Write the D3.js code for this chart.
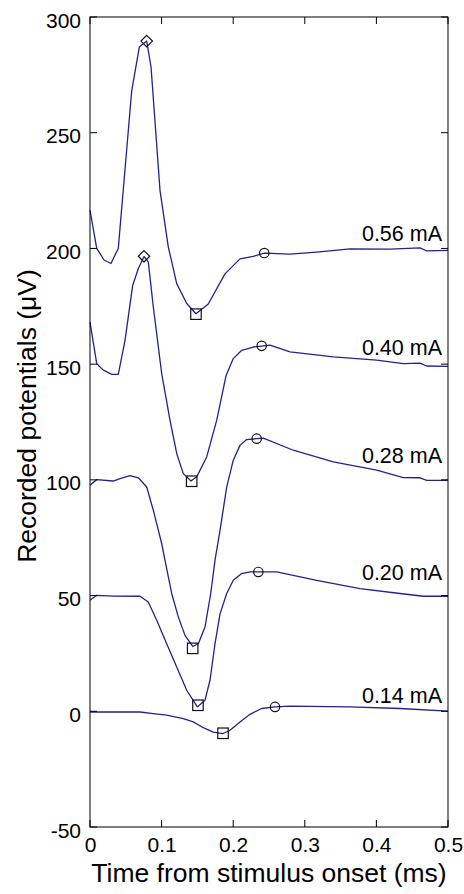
<!DOCTYPE html>
<html>
<head>
<meta charset="utf-8">
<script src="https://cdn.jsdelivr.net/npm/d3@7"></script>
<style>
  html, body { margin: 0; padding: 0; background: #fff; }
  svg { display: block; }
  text { font-family: "Liberation Sans", Arial, Helvetica, sans-serif; fill: #000; }
</style>
</head>
<body>
<div id="chart"></div>
<script>
// ---------------- data ----------------
const currents = ["0.56 mA", "0.40 mA", "0.28 mA", "0.20 mA", "0.14 mA"];
const labelV   = [203, 153.8, 107.3, 56.6, 3.6];

const t056 = [0, .0094, .0196, .0293, .0395, .0582, .0689, .0792, .0852, .0978, .1094, .1211, .1351, .1480, .1652, .1885, .2095, .2281, .2434, .2793, .3166, .3631, .4190, .4609, .4703, .5];
const v056 = [216.5, 200, 195, 193.5, 200, 268, 287, 289.6, 278.5, 225, 200.6, 184.8, 176.2, 171.8, 176, 189, 195.5, 196.6, 198, 197.5, 198.4, 199.8, 199.7, 200.2, 198.9, 199.2];

const t040 = [0, .0094, .0186, .0303, .0395, .0489, .0596, .0675, .0754, .0814, .0884, .1001, .1117, .1211, .1303, .1411, .1490, .1630, .1770, .1900, .2001, .2119, .2281, .2398, .2514, .2793, .3398, .4004, .4376, .4609, .4703, .5];
const v040 = [168.2, 150.2, 147.4, 145.6, 145.6, 160.3, 184, 191.3, 196.5, 194.2, 174.8, 146, 125.8, 111.4, 102.7, 99.5, 101.3, 109.9, 125.8, 145, 152.4, 156, 157.4, 157.8, 158.2, 155.3, 153.1, 151.7, 150.2, 150.4, 149.2, 149];

const t028 = [0, .0094, .0325, .0419, .0559, .0675, .0792, .0884, .1001, .1047, .1141, .1233, .1327, .1435, .1513, .1606, .1686, .1746, .1816, .1909, .2001, .2095, .2188, .2328, .2420, .2839, .3398, .4004, .4376, .4609, .4703, .5];
const v028 = [97.7, 100.1, 99.5, 100.5, 101.8, 100.9, 96.9, 86.9, 72.5, 65.3, 50.9, 40.8, 32.8, 28, 29.2, 36.4, 50.9, 65.3, 78.2, 96.9, 108.5, 114.9, 117.4, 117.8, 118, 112.8, 107.8, 104.2, 101, 100.9, 99.8, 99.8];

const t020 = [0, .0094, .0325, .0698, .0814, .0932, .1071, .1211, .1351, .1499, .1606, .1676, .1746, .1816, .1909, .2001, .2119, .2235, .2351, .2608, .3166, .3771, .4330, .4655, .5];
const v020 = [48, 50.1, 49.8, 49.7, 47.2, 39.3, 29.2, 19.1, 9.1, 1.9, 4.8, 13.4, 29.2, 42.1, 50.9, 56.6, 59.5, 60.2, 60.2, 60.2, 56.6, 53, 50.9, 49.7, 49.7];

const t014 = [0, .0698, .0884, .1071, .1303, .1443, .1582, .1722, .1853, .1955, .2095, .2235, .2398, .2584, .2793, .3631, .4330, .5];
const v014 = [-0.3, -0.3, -1, -1.7, -3.2, -4.6, -7.1, -9, -9.7, -8.2, -4.6, -1.3, 1.2, 1.9, 2.2, 1.9, 1.2, 0.1];

// markers: peak (diamond), trough (square), recovery (circle)
const peakT   = [.0792, .0754];
const peakV   = [289.6, 196.6];
const troughT = [.1480, .1420, .1434, .1508, .1858];
const troughV = [171.6, 99.4, 27.2, 2.6, -9.5];
const recT    = [.2434, .2398, .2328, .2351, .2584];
const recV    = [198, 157.9, 117.8, 60.2, 1.9];

const xTicks = [0, 0.1, 0.2, 0.3, 0.4, 0.5];
const xTickLabels = ["0", "0.1", "0.2", "0.3", "0.4", "0.5"];
const yTicks = [-50, 0, 50, 100, 150, 200, 250, 300];
const yTickLabels = ["-50", "0", "50", "100", "150", "200", "250", "300"];

const traces = [[t056, v056], [t040, v040], [t028, v028], [t020, v020], [t014, v014]];

// ---------------- layout ----------------
const W = 464, H = 894;
const M = { left: 90, right: 16, top: 17, bottom: 67 };
const iw = W - M.left - M.right, ih = H - M.top - M.bottom;

const svg = d3.select("#chart").append("svg").attr("width", W).attr("height", H);
const g = svg.append("g").attr("transform", `translate(${M.left},${M.top})`);

const x = d3.scaleLinear().domain([0, 0.5]).range([0, iw]);
const y = d3.scaleLinear().domain([-50, 300]).range([ih, 0]);

const lineColor = "#25208f";
const TL = 7;

// traces
const line = d3.line().x(d => x(d[0])).y(d => y(d[1]));
traces.forEach(([ts, vs]) => {
  g.append("path")
    .datum(ts.map((t, i) => [t, vs[i]]))
    .attr("d", line)
    .attr("fill", "none")
    .attr("stroke", lineColor)
    .attr("stroke-width", 1.3)
    .attr("stroke-linejoin", "round");
});

// markers
const mk = g.append("g").attr("fill", "none").attr("stroke", "#111").attr("stroke-width", 1.2);
peakT.forEach((t, i) => {
  mk.append("path")
    .attr("d", d3.symbol().type(d3.symbolDiamond2 || d3.symbolSquare2).size(84)())
    .attr("transform", `translate(${x(t)},${y(peakV[i])})`);
});
troughT.forEach((t, i) => {
  const s = 10.5;
  mk.append("rect")
    .attr("x", x(t) - s / 2).attr("y", y(troughV[i]) - s / 2)
    .attr("width", s).attr("height", s);
});
recT.forEach((t, i) => {
  mk.append("circle").attr("cx", x(t)).attr("cy", y(recV[i])).attr("r", 4.7);
});

// labels
currents.forEach((c, i) => {
  g.append("text")
    .attr("x", x(0.5) - 6)
    .attr("y", y(labelV[i]))
    .attr("text-anchor", "end")
    .attr("font-size", 21.5)
    .text(c);
});

// axes box
const ax = g.append("g");
ax.append("rect").attr("x", 0).attr("y", 0).attr("width", iw).attr("height", ih)
  .attr("fill", "none").attr("stroke", "#000").attr("stroke-width", 1);

const xAxisB = d3.axisBottom(x).tickValues(xTicks).tickSize(0).tickFormat((d, i) => xTickLabels[i]);
const gx = ax.append("g").attr("transform", `translate(0,${ih})`).call(xAxisB);
gx.select(".domain").remove();
gx.selectAll("text").attr("font-size", 21).attr("dy", null).attr("y", 25)
  .style("font-family", '"Liberation Sans", Arial, sans-serif').attr("fill", "#000");

const yAxisL = d3.axisLeft(y).tickValues(yTicks).tickSize(0).tickFormat((d, i) => yTickLabels[i]);
const gy = ax.append("g").call(yAxisL);
gy.select(".domain").remove();
gy.selectAll("text").attr("font-size", 21).attr("dy", null).attr("x", -9).attr("y", 10)
  .style("font-family", '"Liberation Sans", Arial, sans-serif').attr("fill", "#000");

// inward ticks on all four sides
xTicks.forEach(t => {
  ax.append("line").attr("x1", x(t)).attr("x2", x(t)).attr("y1", ih).attr("y2", ih - TL).attr("stroke", "#000");
  ax.append("line").attr("x1", x(t)).attr("x2", x(t)).attr("y1", 0).attr("y2", TL).attr("stroke", "#000");
});
yTicks.forEach(v => {
  ax.append("line").attr("x1", 0).attr("x2", TL).attr("y1", y(v)).attr("y2", y(v)).attr("stroke", "#000");
  ax.append("line").attr("x1", iw).attr("x2", iw - TL).attr("y1", y(v)).attr("y2", y(v)).attr("stroke", "#000");
});

// axis titles
svg.append("text")
  .attr("x", M.left + iw / 2).attr("y", 882)
  .attr("text-anchor", "middle").attr("font-size", 26.5)
  .text("Time from stimulus onset (ms)");

svg.append("text")
  .attr("transform", `translate(36,${416}) rotate(-90)`)
  .attr("text-anchor", "middle").attr("font-size", 26.5)
  .text("Recorded potentials (μV)");
</script>
</body>
</html>
